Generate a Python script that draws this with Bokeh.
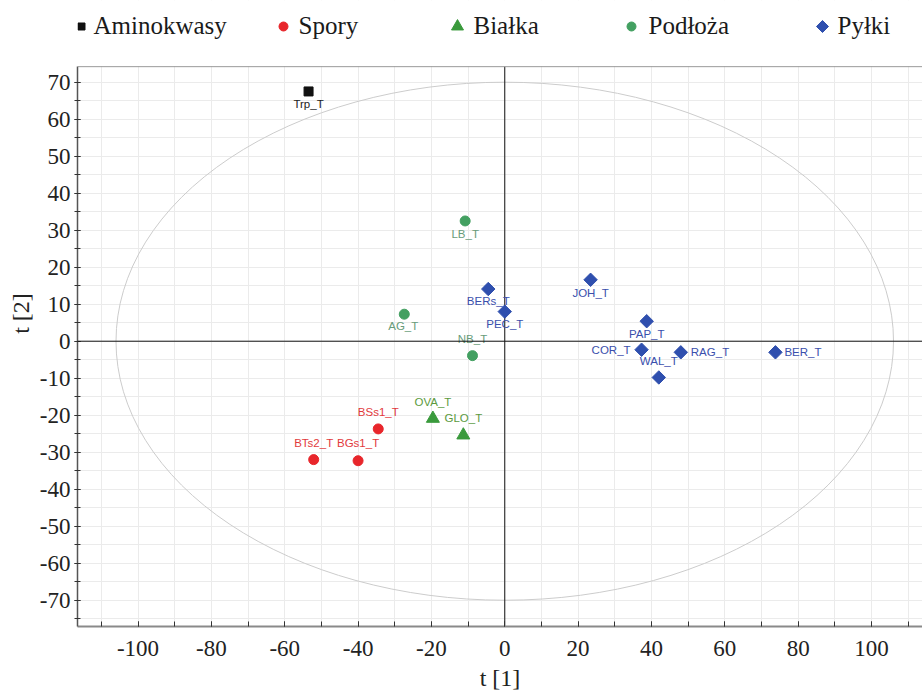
from bokeh.plotting import figure
from bokeh.models import (ColumnDataSource, Range1d, SingleIntervalTicker, Span,
                          PrintfTickFormatter)
from bokeh.core.properties import value
from bokeh.embed import file_html
from bokeh.resources import INLINE

# ---------------- data ----------------
groups = ["Aminokwasy", "Spory", "Białka", "Podłoża", "Pyłki"]

names = ["Trp_T",
         "BSs1_T", "BTs2_T", "BGs1_T",
         "OVA_T", "GLO_T",
         "LB_T", "AG_T", "NB_T",
         "BERs_T", "PEC_T", "JOH_T", "PAP_T", "COR_T", "WAL_T", "RAG_T", "BER_T"]
group_of = ["Aminokwasy",
            "Spory", "Spory", "Spory",
            "Białka", "Białka",
            "Podłoża", "Podłoża", "Podłoża",
            "Pyłki", "Pyłki", "Pyłki", "Pyłki", "Pyłki", "Pyłki", "Pyłki", "Pyłki"]
t1 = [-53.5,
      -34.5, -52.1, -40.0,
      -19.6, -11.3,
      -10.8, -27.4, -8.8,
      -4.5, 0.0, 23.4, 38.7, 37.3, 42.0, 48.0, 73.8]
t2 = [67.5,
      -23.7, -32.0, -32.3,
      -20.9, -25.4,
      32.5, 7.3, -3.9,
      14.1, 8.0, 16.6, 5.4, -2.3, -9.8, -3.0, -3.0]

x_ticks_interval = 20
y_ticks_interval = 10
ellipse_a = 106   # Hotelling T2 ellipse semi-axes
ellipse_b = 70

# ---------------- styles / layout ----------------
style = {
    "Aminokwasy": dict(marker="square", size=9, color="#111111", angle=0.0, label="#222222", lsize=7),
    "Spory":      dict(marker="circle", size=10, color="#e8262b", angle=0.0, label="#e23a3c", lsize=9),
    "Białka":     dict(marker="triangle", size=13, color="#3a9a3c", angle=0.0, label="#5c9a3e", lsize=12),
    "Podłoża":    dict(marker="circle", size=10, color="#43a061", angle=0.0, label="#689c7a", lsize=9),
    "Pyłki":      dict(marker="square", size=9.5, color="#2f4fae", angle=0.785398, label="#3a4fac", lsize=8.5),
}
# point-label placement (screen px offsets) per point, same order as names
lab_dx = [0, 0, 0, 0, 0, 0, 0, -1, 0, 0, 0, 0, 0, -11, 0, 10, 9]
lab_dy = [13, -17, -17, -18, -17, -17, 13, 12, -17, 12, 12, 13, 13, 0, -16, 0, 0]
lab_al = ["center"] * 13 + ["right", "center", "left", "left"]

# header legend layout in page pixels
leg_marker_x = [81, 283, 457, 631, 822]
leg_text_x = [93, 298, 473, 648, 837]
leg_marker_y = 26
leg_text_y = 25

SERIF = "Liberation Serif"
SANS = "Liberation Sans"

W, H = 922, 693
FRAME_L, FRAME_B_PX, PLOT_TOP_PX = 77, 626, 66
X_LO, X_HI = -116.5, 113.9
Y_LO, Y_TOP = -77.1, 74.2          # visible plotting area
Y_HI = 92.08                        # frame extends up under the legend header

p = figure(width=W, height=H, output_backend="svg", toolbar_location=None,
           x_range=Range1d(X_LO, X_HI), y_range=Range1d(Y_LO, Y_HI),
           min_border_top=0, min_border_left=FRAME_L, min_border_right=0,
           min_border_bottom=H - FRAME_B_PX)
p.extra_x_ranges = {"px": Range1d(FRAME_L, W)}
p.extra_y_ranges = {"px": Range1d(FRAME_B_PX, 0)}
p.background_fill_color = "white"
p.border_fill_color = "white"
p.outline_line_color = None

p.xaxis.ticker = SingleIntervalTicker(interval=x_ticks_interval, num_minor_ticks=2)
p.yaxis.ticker = SingleIntervalTicker(interval=y_ticks_interval, num_minor_ticks=2)
p.xaxis.formatter = PrintfTickFormatter(format="%d")
p.yaxis.formatter = PrintfTickFormatter(format="%d")
p.yaxis.bounds = (Y_LO, Y_TOP)
p.xgrid.ticker = SingleIntervalTicker(interval=10)
p.ygrid.ticker = SingleIntervalTicker(interval=5)
p.ygrid.bounds = (Y_LO, Y_TOP)
p.grid.grid_line_color = "#ebebeb"
p.grid.grid_line_width = 1

for ax in (p.xaxis, p.yaxis):
    ax.major_label_text_font = SERIF
    ax.major_label_text_font_size = "23px"
    ax.major_label_text_color = "#222222"
    ax.axis_label_text_font = SERIF
    ax.axis_label_text_font_size = "24px"
    ax.axis_label_text_font_style = "normal"
    ax.axis_label_text_color = "#222222"

p.xaxis.axis_label = "t [1]"
p.yaxis.axis_label = "t [2]"
p.xaxis.axis_line_color = "#8a8a8a"
p.xaxis.axis_line_width = 2
p.yaxis.axis_line_color = "#555555"
p.yaxis.axis_line_width = 1.5
p.xaxis.major_tick_in = 5
p.xaxis.major_tick_out = 0
p.xaxis.minor_tick_in = 5
p.xaxis.minor_tick_out = 0
p.xaxis.major_tick_line_color = "#333333"
p.xaxis.minor_tick_line_color = "#333333"
p.xaxis.major_label_standoff = 14
p.xaxis.axis_label_standoff = 6
p.yaxis.major_tick_in = 3
p.yaxis.major_tick_out = 3
p.yaxis.minor_tick_in = 3
p.yaxis.minor_tick_out = 3
p.yaxis.major_tick_line_color = "#333333"
p.yaxis.minor_tick_line_color = "#333333"
p.yaxis.major_label_standoff = 4
p.yaxis.axis_label_standoff = 3

# white cover over the header strip (hides grid lines there)
p.quad(left=[FRAME_L], right=[W], top=[0], bottom=[PLOT_TOP_PX - 0.5],
       x_range_name="px", y_range_name="px", fill_color="white", line_color=None)

# top border of plotting area
p.add_layout(Span(location=Y_TOP, dimension="width", line_color="#9a9a9a", line_width=1))

# confidence ellipse
p.ellipse(x=[0], y=[0], width=[2 * ellipse_a], height=[2 * ellipse_b],
          fill_color=None, line_color="#cccccc", line_width=1)

# zero lines
p.add_layout(Span(location=0, dimension="width", line_color="#111111", line_width=1))
p.segment(x0=[0], y0=[Y_LO], x1=[0], y1=[Y_TOP], line_color="#111111", line_width=1)

for g in groups:
    idx = [i for i, gg in enumerate(group_of) if gg == g]
    src = ColumnDataSource(dict(
        x=[t1[i] for i in idx], y=[t2[i] for i in idx], name=[names[i] for i in idx],
        dx=[lab_dx[i] for i in idx], dy=[lab_dy[i] for i in idx], al=[lab_al[i] for i in idx]))
    s = style[g]
    p.scatter("x", "y", source=src, marker=s["marker"], size=s["size"],
              angle=s["angle"], fill_color=s["color"], line_color=s["color"])
    p.text("x", "y", text="name", source=src, x_offset="dx", y_offset="dy", text_align="al",
           text_baseline="middle", text_font=value(SANS), text_font_size="11.5px",
           text_color=s["label"])

# legend header
for g, mx, tx in zip(groups, leg_marker_x, leg_text_x):
    s = style[g]
    p.scatter([mx], [leg_marker_y], marker=s["marker"], size=s["lsize"], angle=s["angle"],
              fill_color=s["color"], line_color=s["color"],
              x_range_name="px", y_range_name="px")
    p.text([tx], [leg_text_y], text=[g], text_font=value(SERIF),
           text_font_size="25px", text_color="#1a1a1a", text_baseline="middle",
           text_align="left", x_range_name="px", y_range_name="px")

open("out.html", "w").write(file_html(p, INLINE))
